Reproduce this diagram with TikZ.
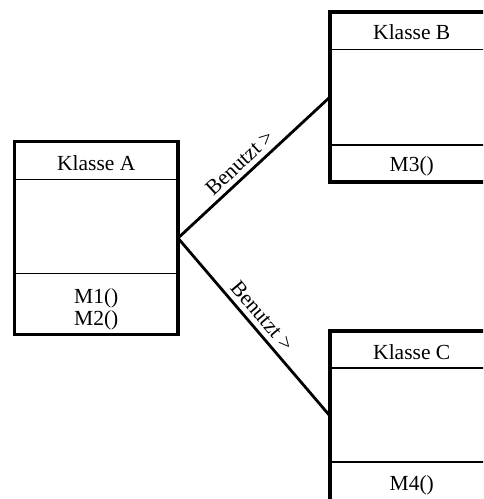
\documentclass[tikz,border=0pt]{standalone}
\usepackage{fontspec}
\setmainfont{Liberation Serif}
\begin{document}
\begin{tikzpicture}[x=1pt,y=-1pt,
  classbox/.style={draw, line width=3.5pt, rectangle, inner sep=0pt, outer sep=0pt,
                   anchor=north west, minimum width=163.5pt},
  divider/.style={line width=1.3pt},
  uses/.style={line width=2.8pt},
  lbl/.style={font=\fontsize{21.5}{22}\selectfont, inner sep=0pt, anchor=base},
  rolelabel/.style={font=\fontsize{21.5}{22}\selectfont, sloped, above, inner sep=5pt}]
\useasboundingbox (0,0) rectangle (483,499);
\clip (0,0) rectangle (483,499);

% class frames
\node[classbox, minimum height=193.2pt] (A) at (14.5,141.5) {};
\node[classbox, minimum height=170pt]   (B) at (330,12) {};
\node[classbox, minimum height=170pt]   (C) at (330,331) {};

% compartment dividers: name | attributes | methods
\draw[divider] ([yshift=-37.8pt]A.north west) -- ([yshift=-37.8pt]A.north east);
\draw[divider] ([yshift=61.2pt]A.south west) -- ([yshift=61.2pt]A.south east);
\draw[divider] ([yshift=-37.5pt]B.north west) -- ([yshift=-37.5pt]B.north east);
\draw[divider] ([yshift=37pt]B.south west) -- ([yshift=37pt]B.south east);
\draw[divider] ([yshift=-37pt]C.north west) -- ([yshift=-37pt]C.north east);
\draw[divider] ([yshift=-131pt]C.north west) -- ([yshift=-131pt]C.north east);

% class names and operations
\node[lbl] (Aname) at (96.25,170) {Klasse A};
\node[lbl] (Am1)   at (96.25,303.3) {M1()};
\node[lbl] (Am2)   at (96.25,325.5) {M2()};
\node[lbl] (Bname) at (411.75,39.8) {Klasse B};
\node[lbl] (Bm3)   at (411.75,171.5) {M3()};
\node[lbl] (Cname) at (411.75,359) {Klasse C};
\node[lbl] (Cm4)   at (411.75,490.5) {M4()};

% associations
\draw[uses] (A.east) -- node[rolelabel, pos=0.465] (useB) {Benutzt >} (B.west);
\draw[uses] (A.east) -- node[rolelabel, pos=0.486] (useC) {Benutzt >} (C.west);
\end{tikzpicture}
\end{document}
